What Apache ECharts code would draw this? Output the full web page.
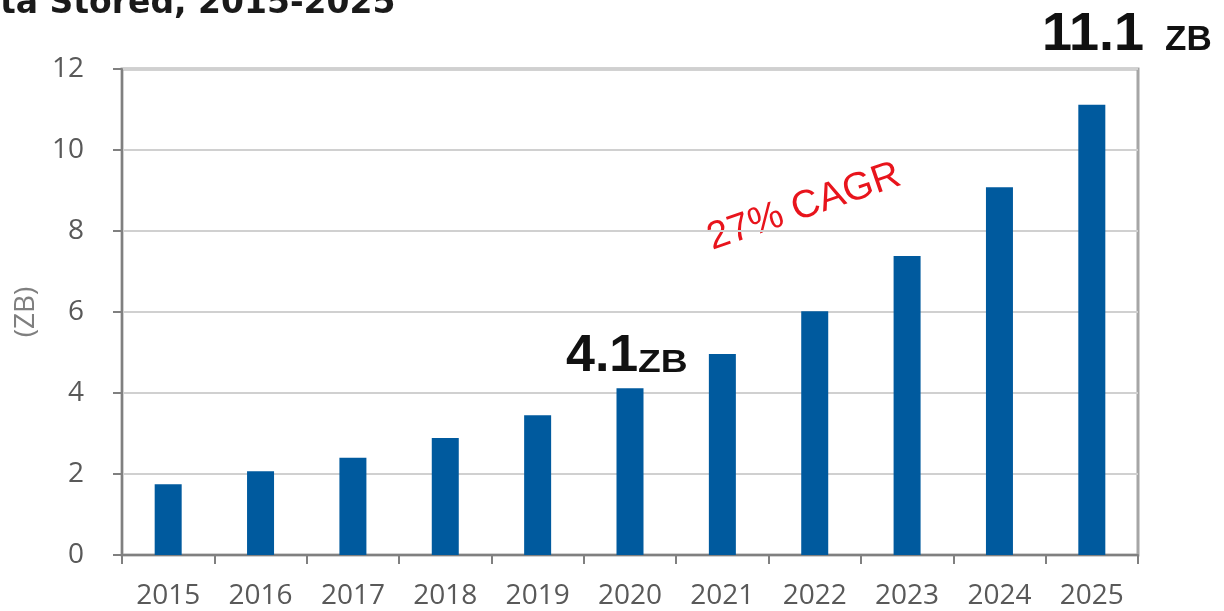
<!DOCTYPE html>
<html>
<head>
<meta charset="utf-8">
<script src="https://cdn.jsdelivr.net/npm/echarts@6/dist/echarts.min.js"></script>
<style>
  html, body { margin: 0; padding: 0; background: #fff; }
  #chart { width: 1224px; height: 611px; }
</style>
</head>
<body>
<div id="chart"></div>
<script>
// data
const years = ['2015', '2016', '2017', '2018', '2019', '2020', '2021', '2022', '2023', '2024', '2025']
const stored = [1.75, 2.07, 2.4, 2.89, 3.45, 4.12, 4.96, 6.02, 7.38, 9.08, 11.12]
const yTicks = [0, 2, 4, 6, 8, 10, 12]

const chart = echarts.init(document.getElementById('chart'))

const bold = 'bold {s}px "Liberation Sans"'
const txt = (x, y, text, size, extra) => Object.assign({
  type: 'text', x: x, y: y,
  style: { text: text, fill: '#111', font: bold.replace('{s}', size), align: 'left', verticalAlign: 'top' }
}, extra || {})

const option = {
  animation: false,
  grid: {
    left: 122, right: 86, top: 69, bottom: 56,
    show: true, borderColor: '#a6a6a6', borderWidth: 3, backgroundColor: '#fff'
  },
  xAxis: {
    type: 'category',
    data: years,
    axisLine: { lineStyle: { color: '#808080', width: 2 } },
    axisTick: { show: true, length: 9, lineStyle: { color: '#808080', width: 2 } },
    axisLabel: { color: '#595959', fontSize: 28, fontFamily: 'Open Sans', margin: 27 }
  },
  yAxis: {
    type: 'value',
    min: yTicks[0], max: yTicks[yTicks.length - 1], interval: 2,
    name: '(ZB)',
    nameLocation: 'middle',
    nameGap: 82,
    nameRotate: 90,
    nameTextStyle: { color: '#7f7f7f', fontSize: 28, fontFamily: 'Open Sans' },
    axisLine: { show: true, lineStyle: { color: '#808080', width: 2 } },
    axisTick: { show: true, length: 9, lineStyle: { color: '#808080', width: 2 } },
    axisLabel: { color: '#595959', fontSize: 28, fontFamily: 'Open Sans', margin: 38 },
    splitLine: { lineStyle: { color: '#d0d0d0', width: 2 } }
  },
  series: [{
    type: 'bar',
    data: stored,
    barWidth: 27,
    itemStyle: { color: '#005a9e' }
  }],
  graphic: [
    {
      type: 'text', left: 0, top: -12,
      style: { text: 'ta Stored, 2015-2025', fill: '#1a1a1a', font: 'bold 33px "DejaVu Sans"' }
    },
    txt(566, 331, '4.1', 52),
    txt(638, 348, 'ZB', 31, { scaleX: 1.2 }),
    txt(1042, 8, '11.1', 54),
    txt(1165, 23, 'ZB', 35),
    {
      type: 'text', x: 804, y: 207, rotation: 19 * Math.PI / 180,
      style: {
        text: '27% CAGR', fill: '#e8141c',
        font: '39px "Liberation Sans"', align: 'center', verticalAlign: 'middle'
      }
    }
  ]
}

chart.setOption(option)
window.onresize = function () {
  chart.resize()
}
</script>
</body>
</html>
